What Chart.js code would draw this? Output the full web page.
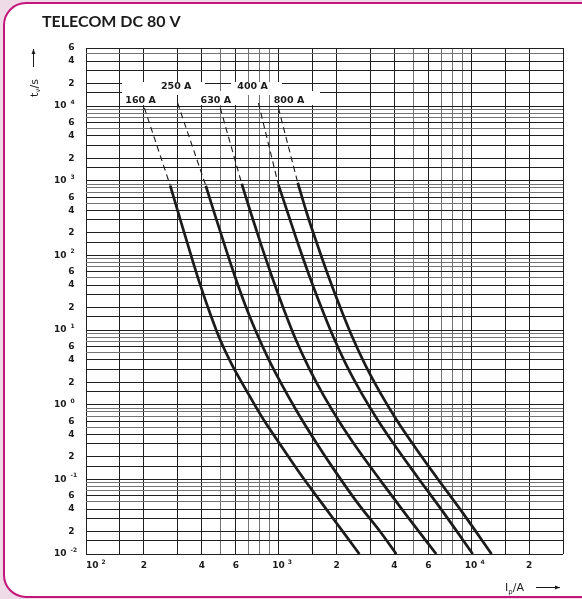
<!DOCTYPE html>
<html lang="en">
<head>
<meta charset="UTF-8">
<title>TELECOM DC 80 V</title>
<script src="https://cdn.jsdelivr.net/npm/chart.js"></script>
<style>
    html, body {
        margin: 0;
        padding: 0;
        background: #eedbe7;
    }
    #fuseChart {
        display: block;
    }
</style>
</head>
<body>
<canvas id="fuseChart" width="582" height="599"></canvas>
<script>
// curve names, in the order the curves sit from left to right
const ratingLabels = ['160 A', '250 A', '630 A', '400 A', '800 A'];

// solid part of each curve: prospective current (A) and melting time (s)
const amps160 = [274, 309, 348, 392, 442, 498, 574, 679, 821, 1018, 1292, 1681, 2211, 2628];
const secs160 = [857, 300, 108, 40.2, 16.4, 7.34, 3.39, 1.57, 0.68, 0.295, 0.12, 0.0476, 0.0183, 0.01];

const amps250 = [419, 469, 528, 595, 671, 765, 882, 1043, 1262, 1564, 1986, 2582, 3397, 4087];
const secs250 = [857, 339, 130, 51.4, 21.7, 9.4, 4.21, 1.83, 0.769, 0.314, 0.124, 0.0476, 0.0194, 0.01];

const amps630 = [644, 720, 812, 925, 1068, 1232, 1439, 1721, 2108, 2644, 3438, 4578, 6588];
const secs630 = [912, 361, 138, 51.4, 18.6, 7.34, 3.09, 1.3, 0.547, 0.23, 0.0912, 0.0339, 0.01];

const amps400 = [998, 1120, 1262, 1439, 1641, 1916, 2237, 2676, 3278, 4111, 5283, 7117, 10200];
const secs400 = [884, 361, 143, 54.7, 22.3, 8.31, 3.5, 1.47, 0.619, 0.261, 0.106, 0.0372, 0.01];

const amps800 = [1258, 1405, 1584, 1805, 2058, 2403, 2807, 3357, 4111, 5159, 6625, 8930, 12770];
const secs800 = [940, 361, 143, 54.7, 22.3, 8.31, 3.5, 1.47, 0.619, 0.261, 0.106, 0.0372, 0.01];

const curveAmps = [amps160, amps250, amps630, amps400, amps800];
const curveSecs = [secs160, secs250, secs630, secs400, secs800];

// dashed lead-in at the top of each curve starts here
const leadAmps = [201, 299, 498, 786, 998];
const leadSecs = [9460, 11000, 9460, 11000, 9460];

// labelled ticks
const xTickLabels = [100, 200, 400, 600, 1000, 2000, 4000, 6000, 10000, 20000];
const yTickLabels = [0.01, 0.02, 0.04, 0.06, 0.1, 0.2, 0.4, 0.6, 1, 2, 4, 6, 10, 20, 40, 60,
    100, 200, 400, 600, 1000, 2000, 4000, 6000, 10000, 20000, 40000, 60000];

// grid lines inside every decade
const gridSteps = [1, 1.5, 2, 3, 4, 5, 6, 7, 8, 9];

const ink = '#1b1b1b';
const tickFont = 'DejaVu Sans';

function mantissa(v) {
    const d = Math.floor(Math.log10(v) + 1e-9);
    return Math.round(v / Math.pow(10, d) * 10) / 10;
}

function gridTicks(axis) {
    const lo = Math.floor(Math.log10(axis.min) + 1e-9);
    const hi = Math.ceil(Math.log10(axis.max));
    const ticks = [];
    for (let d = lo; d <= hi; d++) {
        gridSteps.forEach(s => {
            const v = Number((s * Math.pow(10, d)).toPrecision(6));
            if (v >= axis.min * 0.999 && v <= axis.max * 1.001) ticks.push({ value: v });
        });
    }
    axis.ticks = ticks;
}

function gridColor(c) {
    if (!c.tick) return ink;
    const m = mantissa(c.tick.value);
    return [5, 7, 8, 9].includes(m) ? '#737373' : '#1f1f1f';
}

const datasets = [];
curveAmps.forEach((amps, i) => {
    const secs = curveSecs[i];
    datasets.push({
        label: ratingLabels[i],
        data: amps.map((a, j) => ({ x: a, y: secs[j] })),
        showLine: true,
        borderColor: ink,
        borderWidth: 2.7,
        pointRadius: 0,
        cubicInterpolationMode: 'monotone'
    });
    datasets.push({
        label: ratingLabels[i] + ' (dashed)',
        data: [{ x: leadAmps[i], y: leadSecs[i] }, { x: amps[0], y: secs[0] }],
        showLine: true,
        borderColor: ink,
        borderWidth: 1.1,
        borderDash: [6, 4],
        pointRadius: 0
    });
});

// page frame: pink margin, white rounded card with a magenta edge
const framePlugin = {
    id: 'frame',
    beforeDraw(chart) {
        const ctx = chart.ctx;
        ctx.save();
        ctx.fillStyle = '#eedbe7';
        ctx.fillRect(0, 0, chart.width, chart.height);
        ctx.beginPath();
        ctx.roundRect(4, 3, 620, 594, 22);
        ctx.fillStyle = '#ffffff';
        ctx.fill();
        ctx.lineWidth = 2;
        ctx.strokeStyle = '#c4177c';
        ctx.stroke();
        ctx.restore();
    }
};

// white patches the curve names sit on
const labelBacks = [
    [122, 82, 83, 13], [231, 82, 51, 13],
    [122, 91, 40, 14], [195, 91, 41, 14], [270, 91, 50, 14]
];
const labelSpots = [
    { amps: 192, secs: 11850 }, { amps: 294, secs: 18270 }, { amps: 472, secs: 11850 },
    { amps: 733, secs: 18270 }, { amps: 1133, secs: 11850 }
];

function arrow(ctx, x1, y1, x2, y2) {
    const a = Math.atan2(y2 - y1, x2 - x1);
    ctx.beginPath();
    ctx.moveTo(x1, y1);
    ctx.lineTo(x2, y2);
    ctx.stroke();
    ctx.beginPath();
    ctx.moveTo(x2, y2);
    ctx.lineTo(x2 - 5 * Math.cos(a) + 2 * Math.sin(a), y2 - 5 * Math.sin(a) - 2 * Math.cos(a));
    ctx.lineTo(x2 - 5 * Math.cos(a) - 2 * Math.sin(a), y2 - 5 * Math.sin(a) + 2 * Math.cos(a));
    ctx.closePath();
    ctx.fill();
}

const textPlugin = {
    id: 'texts',
    beforeDatasetsDraw(chart) {
        const ctx = chart.ctx;
        ctx.save();
        ctx.fillStyle = '#ffffff';
        labelBacks.forEach(b => ctx.fillRect(b[0], b[1], b[2], b[3]));
        ctx.restore();
    },
    afterDraw(chart) {
        const ctx = chart.ctx;
        const xs = chart.scales.x;
        const ys = chart.scales.y;
        const area = chart.chartArea;
        const big = 'bold 9px ' + tickFont;
        const small = 'bold 6px ' + tickFont;
        ctx.save();
        ctx.fillStyle = ink;
        ctx.strokeStyle = ink;

        // title
        ctx.font = 'bold 16px Lato';
        ctx.textBaseline = 'alphabetic';
        ctx.textAlign = 'left';
        ctx.fillText('TELECOM DC 80 V', 42, 27);

        // curve names
        ctx.font = 'bold 9.5px ' + tickFont;
        ctx.textAlign = 'center';
        ctx.textBaseline = 'middle';
        labelSpots.forEach((s, i) => {
            ctx.fillText(ratingLabels[i], xs.getPixelForValue(s.amps), ys.getPixelForValue(s.secs));
        });

        // x tick labels
        xTickLabels.forEach(v => {
            const px = xs.getPixelForValue(v);
            const y = 566;
            const m = mantissa(v);
            ctx.font = big;
            ctx.textBaseline = 'middle';
            if (m === 1) {
                const w = ctx.measureText('10').width;
                const cx = Math.max(px, area.left + w / 2);
                ctx.textAlign = 'center';
                ctx.fillText('10', cx, y);
                ctx.font = small;
                ctx.textAlign = 'left';
                ctx.fillText(String(Math.round(Math.log10(v))), cx + w / 2 + 3, y - 3.5);
            } else {
                ctx.textAlign = 'center';
                ctx.fillText(String(m), px, y);
            }
        });

        // y tick labels
        yTickLabels.forEach(v => {
            const py = ys.getPixelForValue(v);
            const m = mantissa(v);
            ctx.font = big;
            ctx.textBaseline = 'middle';
            if (m === 1) {
                ctx.textAlign = 'right';
                ctx.fillText('10', 66.5, py);
                ctx.font = small;
                ctx.textAlign = 'left';
                ctx.fillText(String(Math.round(Math.log10(v))), 70.5, py - 3.5);
            } else {
                ctx.textAlign = 'right';
                ctx.fillText(String(m), 74.5, py);
            }
        });

        // y axis title, reading upwards
        ctx.save();
        ctx.translate(37.5, 97);
        ctx.rotate(-Math.PI / 2);
        ctx.textAlign = 'left';
        ctx.textBaseline = 'alphabetic';
        ctx.font = '11px ' + tickFont;
        ctx.fillText('t', 0, 0);
        let w = ctx.measureText('t').width;
        ctx.font = '7px ' + tickFont;
        ctx.fillText('v', w, 2.5);
        w += ctx.measureText('v').width;
        ctx.font = '11px ' + tickFont;
        ctx.fillText('/s', w, 0);
        ctx.restore();
        ctx.lineWidth = 1;
        arrow(ctx, 33.5, 67, 33.5, 49);

        // x axis title
        ctx.textAlign = 'left';
        ctx.textBaseline = 'alphabetic';
        ctx.font = '11px ' + tickFont;
        ctx.fillText('I', 505, 591);
        let xw = 505 + ctx.measureText('I').width;
        ctx.font = '7px ' + tickFont;
        ctx.fillText('p', xw, 593.5);
        xw += ctx.measureText('p').width;
        ctx.font = '11px ' + tickFont;
        ctx.fillText('/A', xw, 591);
        arrow(ctx, 536, 587.5, 560, 587.5);

        ctx.restore();
    }
};

new Chart(document.getElementById('fuseChart'), {
    type: 'scatter',
    data: { datasets: datasets },
    options: {
        responsive: false,
        animation: false,
        devicePixelRatio: 1,
        layout: { padding: { top: 48, right: 19, left: 0, bottom: 0 } },
        plugins: {
            legend: { display: false },
            tooltip: { enabled: false }
        },
        scales: {
            x: {
                type: 'logarithmic',
                min: 100,
                max: 30000,
                afterBuildTicks: gridTicks,
                afterFit: (s) => { s.height = 45; },
                ticks: { display: false },
                grid: { color: gridColor, lineWidth: 1, drawTicks: false },
                border: { display: false }
            },
            y: {
                type: 'logarithmic',
                min: 0.01,
                max: 60000,
                afterBuildTicks: gridTicks,
                afterFit: (s) => { s.width = 86; },
                ticks: { display: false },
                grid: { color: gridColor, lineWidth: 1, drawTicks: false },
                border: { display: false }
            }
        }
    },
    plugins: [framePlugin, textPlugin]
});
</script>
</body>
</html>
